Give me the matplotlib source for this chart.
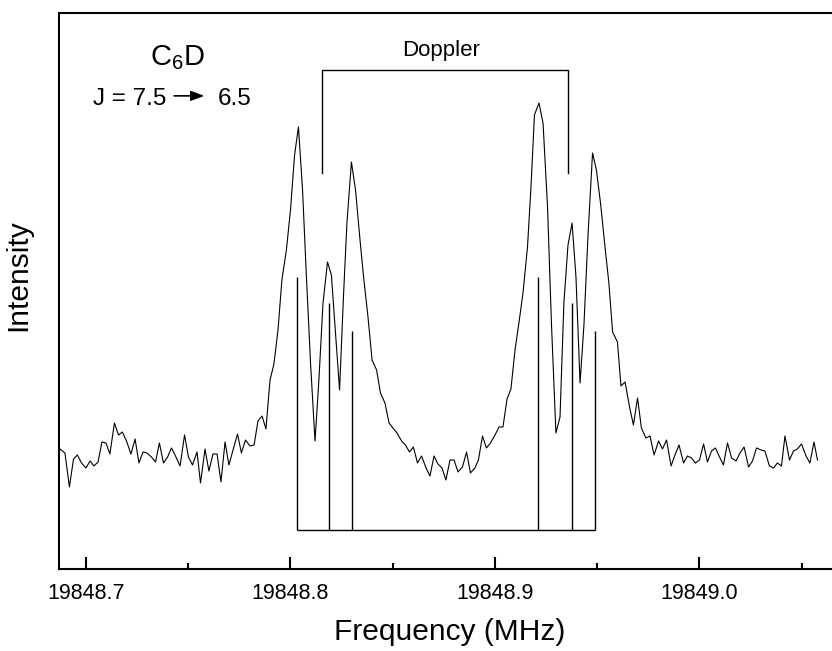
import matplotlib
matplotlib.use('Agg')
import matplotlib.pyplot as plt
from matplotlib.ticker import MultipleLocator, FormatStrFormatter

plt.rcParams['font.family'] = ['Liberation Sans', 'DejaVu Sans']

# Measured spectrum (frequency in MHz, intensity in arbitrary units)
freq = [
    19848.6873, 19848.6885, 19848.6897, 19848.6919, 19848.6939, 19848.6958, 19848.6978, 19848.7000, 19848.7020, 19848.7039,
    19848.7059, 19848.7078, 19848.7098, 19848.7117, 19848.7139, 19848.7159, 19848.7178, 19848.7198, 19848.7220, 19848.7240,
    19848.7259, 19848.7279, 19848.7298, 19848.7320, 19848.7340, 19848.7359, 19848.7379, 19848.7399, 19848.7418, 19848.7440,
    19848.7460, 19848.7482, 19848.7501, 19848.7521, 19848.7543, 19848.7560, 19848.7582, 19848.7601, 19848.7621, 19848.7641,
    19848.7660, 19848.7680, 19848.7699, 19848.7719, 19848.7741, 19848.7760, 19848.7780, 19848.7802, 19848.7822, 19848.7841,
    19848.7861, 19848.7880, 19848.7900, 19848.7919, 19848.7939, 19848.7958, 19848.7980, 19848.8000, 19848.8020, 19848.8039,
    19848.8059, 19848.8078, 19848.8098, 19848.8120, 19848.8139, 19848.8159, 19848.8181, 19848.8200, 19848.8218, 19848.8240,
    19848.8259, 19848.8276, 19848.8298, 19848.8318, 19848.8340, 19848.8359, 19848.8379, 19848.8399, 19848.8421, 19848.8440,
    19848.8462, 19848.8482, 19848.8501, 19848.8521, 19848.8543, 19848.8562, 19848.8582, 19848.8601, 19848.8621, 19848.8641,
    19848.8663, 19848.8682, 19848.8702, 19848.8721, 19848.8741, 19848.8760, 19848.8780, 19848.8800, 19848.8819, 19848.8841,
    19848.8861, 19848.8880, 19848.8902, 19848.8919, 19848.8939, 19848.8958, 19848.8978, 19848.9000, 19848.9020, 19848.9039,
    19848.9059, 19848.9078, 19848.9098, 19848.9117, 19848.9137, 19848.9159, 19848.9176, 19848.9193, 19848.9215, 19848.9235,
    19848.9257, 19848.9276, 19848.9298, 19848.9318, 19848.9337, 19848.9357, 19848.9377, 19848.9396, 19848.9416, 19848.9435,
    19848.9455, 19848.9477, 19848.9496, 19848.9516, 19848.9538, 19848.9557, 19848.9575, 19848.9599, 19848.9616, 19848.9636,
    19848.9658, 19848.9677, 19848.9697, 19848.9716, 19848.9738, 19848.9758, 19848.9778, 19848.9800, 19848.9819, 19848.9839,
    19848.9861, 19848.9880, 19848.9900, 19848.9922, 19848.9941, 19848.9961, 19848.9980, 19849.0000, 19849.0020, 19849.0039,
    19849.0059, 19849.0078, 19849.0098, 19849.0117, 19849.0137, 19849.0157, 19849.0179, 19849.0198, 19849.0218, 19849.0240,
    19849.0259, 19849.0279, 19849.0301, 19849.0320, 19849.0342, 19849.0362, 19849.0381, 19849.0401, 19849.0418, 19849.0440,
    19849.0460, 19849.0479, 19849.0499, 19849.0521, 19849.0540, 19849.0560, 19849.0577,
]
intensity = [
    1.20, 1.18, 1.16, 0.82, 1.10, 1.14, 1.06, 1.01, 1.08, 1.03,
    1.07, 1.27, 1.26, 1.15, 1.46, 1.34, 1.37, 1.28, 1.15, 1.30,
    1.06, 1.17, 1.16, 1.12, 1.07, 1.26, 1.06, 1.12, 1.21, 1.12,
    1.03, 1.34, 1.12, 1.04, 1.17, 0.86, 1.20, 0.98, 1.15, 1.15,
    0.87, 1.27, 1.04, 1.19, 1.35, 1.16, 1.29, 1.23, 1.24, 1.48,
    1.53, 1.40, 1.89, 2.05, 2.39, 2.89, 3.19, 3.59, 4.14, 4.42,
    3.79, 2.92, 2.06, 1.28, 1.89, 2.66, 3.07, 2.94, 2.42, 1.79,
    2.72, 3.46, 4.07, 3.79, 3.29, 2.89, 2.52, 2.09, 1.99, 1.76,
    1.66, 1.46, 1.41, 1.36, 1.28, 1.24, 1.17, 1.22, 1.06, 1.13,
    1.01, 0.93, 1.13, 1.05, 1.01, 0.89, 1.09, 1.09, 0.97, 1.02,
    1.17, 0.96, 1.01, 1.09, 1.33, 1.21, 1.26, 1.34, 1.42, 1.42,
    1.70, 1.80, 2.19, 2.46, 2.76, 3.22, 3.82, 4.54, 4.66, 4.46,
    3.62, 2.46, 1.36, 1.52, 2.66, 3.24, 3.46, 2.92, 1.86, 2.44,
    3.34, 4.16, 3.99, 3.66, 3.22, 2.86, 2.37, 2.27, 1.83, 1.87,
    1.62, 1.44, 1.71, 1.41, 1.31, 1.33, 1.14, 1.28, 1.20, 1.29,
    1.03, 1.14, 1.24, 1.06, 1.13, 1.11, 1.06, 1.09, 1.25, 1.07,
    1.18, 1.21, 1.12, 1.04, 1.26, 1.11, 1.08, 1.16, 1.22, 1.02,
    1.08, 1.21, 1.19, 1.18, 1.03, 1.01, 1.06, 1.03, 1.33, 1.09,
    1.18, 1.20, 1.25, 1.13, 1.06, 1.27, 1.09,
]

# Hyperfine stick spectrum (two Doppler components)
stick_freq = [19848.8032, 19848.8188, 19848.8301, 19848.9209, 19848.9377, 19848.9489]
stick_height = [2.92, 2.66, 2.38, 2.92, 2.66, 2.38]
stick_base = 0.39

# Doppler bracket
doppler_left = 19848.8154
doppler_right = 19848.9357
doppler_top = 4.99
doppler_bottom = 3.96

fig = plt.figure(figsize=(8.32, 6.51), dpi=100)
ax = fig.add_axes([0.0709, 0.126, 0.9291, 0.854])

ax.plot(freq, intensity, color='black', lw=0.8)

ax.vlines(stick_freq, stick_base, stick_height, color='black', lw=1.0)
ax.hlines(stick_base, min(stick_freq), max(stick_freq), color='black', lw=1.0)

ax.plot([doppler_left, doppler_left, doppler_right, doppler_right],
        [doppler_bottom, doppler_top, doppler_top, doppler_bottom], color='black', lw=1.0)
ax.text((doppler_left + doppler_right) / 2 - 0.002, doppler_top + 0.2, 'Doppler',
        ha='center', va='center', fontsize=16)

ax.text(0.154, 0.92, r'C$_\mathregular{6}$D', transform=ax.transAxes,
        ha='center', va='center', fontsize=21)
ax.text(0.044, 0.845, 'J = 7.5', transform=ax.transAxes, ha='left', va='center', fontsize=17.5)
ax.text(0.206, 0.845, '6.5', transform=ax.transAxes, ha='left', va='center', fontsize=17.5)
ax.annotate('', xy=(0.188, 0.851), xytext=(0.149, 0.851), xycoords='axes fraction',
            arrowprops=dict(arrowstyle='-|>,head_length=0.8,head_width=0.3', color='black',
                            lw=1.2, shrinkA=0, shrinkB=0))

ax.set_xlim(19848.6868, 19849.0648)
ax.set_ylim(0, 5.56)

ax.xaxis.set_major_locator(MultipleLocator(0.1))
ax.xaxis.set_minor_locator(MultipleLocator(0.05))
ax.xaxis.set_major_formatter(FormatStrFormatter('%.1f'))
ax.tick_params(axis='x', which='major', direction='in', length=9, width=1.5, labelsize=15.5, pad=10)
ax.tick_params(axis='x', which='minor', direction='in', length=4.5, width=1.5)
ax.set_yticks([])

for side in ['left', 'bottom', 'top']:
    ax.spines[side].set_linewidth(1.5)
ax.spines['right'].set_visible(False)

ax.set_xlabel('Frequency (MHz)', fontsize=21.5)
ax.xaxis.set_label_coords(0.506, -0.088)
ax.set_ylabel('Intensity', fontsize=21.5)
ax.yaxis.set_label_coords(-0.034, 0.529)

fig.savefig('out.png', dpi=100)
